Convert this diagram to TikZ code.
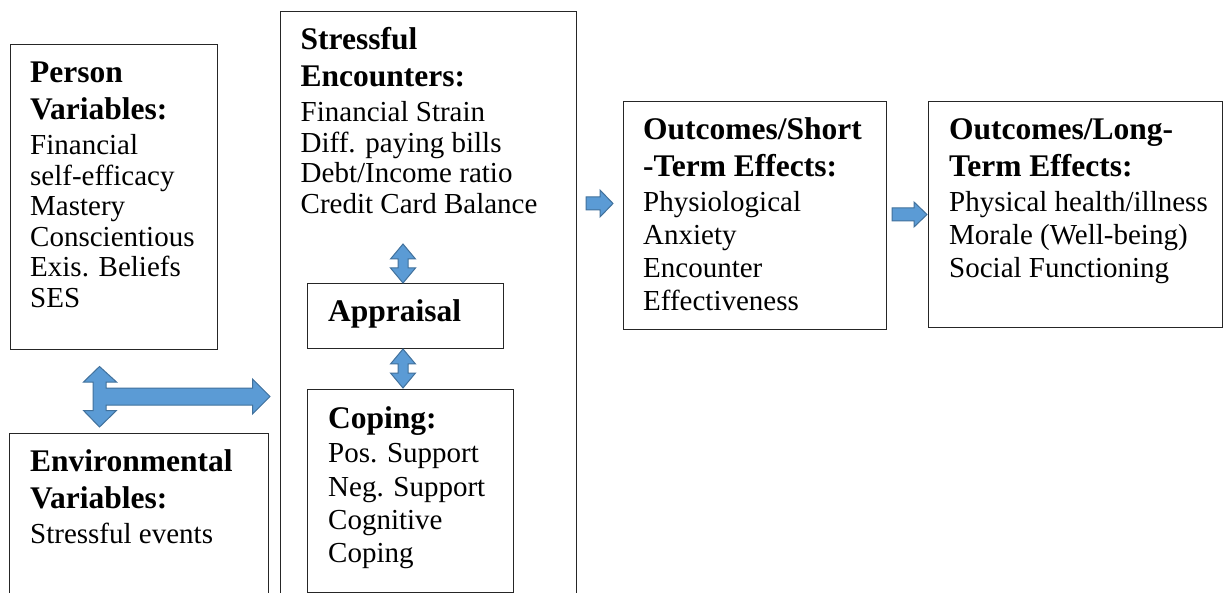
\documentclass[tikz,border=0pt]{standalone}
\usepackage{fontspec}
\setmainfont[Ligatures={NoCommon}]{Liberation Serif}
\definecolor{arrowfill}{HTML}{5B9BD5}
\definecolor{arrowline}{HTML}{41719C}
\tikzset{
  box/.style={draw=black!85, line width=1pt, inner sep=0pt, rectangle, anchor=north west},
  headtxt/.style={anchor=base west, inner sep=0pt, font=\fontsize{31.5}{37}\selectfont\bfseries},
  bodytxt/.style={anchor=base west, inner sep=0pt, font=\fontsize{29}{33}\selectfont},
  blockarrow/.style={fill=arrowfill, draw=arrowline, line width=1pt, line join=miter},
}
\begin{document}
\begin{tikzpicture}[x=1pt,y=-1pt]
\useasboundingbox (0,0) rectangle (1223,593);
\clip (0,0) rectangle (1223,593);
\fill[white] (0,0) rectangle (1223,593);

% boxes
\node[box, minimum width=207, minimum height=305] (person) at (10,44) {};
\node[box, minimum width=259, minimum height=200] (env) at (9,433) {};
\node[box, minimum width=296, minimum height=620] (stress) at (280,11) {};
\node[box, minimum width=196, minimum height=65] (appr) at (307,283) {};
\node[box, minimum width=206, minimum height=203] (coping) at (307,389) {};
\node[box, minimum width=263, minimum height=228] (short) at (623,101) {};
\node[box, minimum width=294, minimum height=226] (long) at (928,101) {};

% Person
\node[headtxt] (p1) at (30,83) {Person};
\node[headtxt] (p2) at (30,120) {Variables:};
\node[bodytxt] (p3) at (30,155) {Financial};
\node[bodytxt] (p4) at (30,185.5) {self-efficacy};
\node[bodytxt] (p5) at (30,216) {Mastery};
\node[bodytxt] (p6) at (30,246.5) {Conscientious};
\node[bodytxt] (p7) at (30,277) {Exis. Beliefs};
\node[bodytxt] (p8) at (30,307.5) {SES};

% Environmental
\node[headtxt] (e1) at (30,471.5) {Environmental};
\node[headtxt] (e2) at (30,508) {Variables:};
\node[bodytxt] (e3) at (30,543) {Stressful events};

% Stressful encounters
\node[headtxt] (s1) at (300.5,50) {Stressful};
\node[headtxt] (s2) at (300.5,87) {Encounters:};
\node[bodytxt] (s3) at (300.5,122) {Financial Strain};
\node[bodytxt] (s4) at (300.5,152.5) {Diff. paying bills};
\node[bodytxt] (s5) at (300.5,183) {Debt/Income ratio};
\node[bodytxt] (s6) at (300.5,213.5) {Credit Card Balance};

% Appraisal
\node[headtxt] (a1) at (328,322) {Appraisal};

% Coping
\node[headtxt] (c1) at (328,428) {Coping:};
\node[bodytxt] (c2) at (328,462) {Pos. Support};
\node[bodytxt] (c3) at (328,496) {Neg. Support};
\node[bodytxt] (c4) at (328,529) {Cognitive};
\node[bodytxt] (c5) at (328,562) {Coping};

% Short-term
\node[headtxt] (o1) at (643,140) {Outcomes/Short};
\node[headtxt] (o2) at (643,177) {-Term Effects:};
\node[bodytxt] (o3) at (643,212) {Physiological};
\node[bodytxt] (o4) at (643,245) {Anxiety};
\node[bodytxt] (o5) at (643,278) {Encounter};
\node[bodytxt] (o6) at (643,311) {Effectiveness};

% Long-term
\node[headtxt] (l1) at (949,140) {Outcomes/Long-};
\node[headtxt] (l2) at (949,177) {Term Effects:};
\node[bodytxt] (l3) at (949,212) {Physical health/illness};
\node[bodytxt] (l4) at (949,245) {Morale (Well-being)};
\node[bodytxt] (l5) at (949,278) {Social Functioning};

% combined arrow: person <-> environmental, -> stressful encounters
\draw[blockarrow] (99.5,366.5) -- (116.5,382) -- (106,382) -- (106,388) -- (252.5,388) -- (252.5,379)
  -- (270,396.5) -- (252.5,414) -- (252.5,405) -- (106,405) -- (106,410.5) -- (116.5,410.5)
  -- (99.5,427) -- (83.5,410.5) -- (93,410.5) -- (93,382) -- (83.5,382) -- cycle;

% stressful <-> appraisal
\draw[blockarrow] (403,244) -- (415.5,259) -- (408,259) -- (408,268) -- (415.5,268) -- (403,283)
  -- (390.5,268) -- (398,268) -- (398,259) -- (390.5,259) -- cycle;
% appraisal <-> coping
\draw[blockarrow] (403,349) -- (415.5,364) -- (408,364) -- (408,373) -- (415.5,373) -- (403,388)
  -- (390.5,373) -- (398,373) -- (398,364) -- (390.5,364) -- cycle;

% stressful -> short-term
\draw[blockarrow] (586,197) -- (600,197) -- (600,190) -- (613,203.5) -- (600,217) -- (600,210) -- (586,210) -- cycle;
% short-term -> long-term
\draw[blockarrow] (892,208) -- (914,208) -- (914,202) -- (927,214.5) -- (914,227) -- (914,221) -- (892,221) -- cycle;
\end{tikzpicture}
\end{document}
